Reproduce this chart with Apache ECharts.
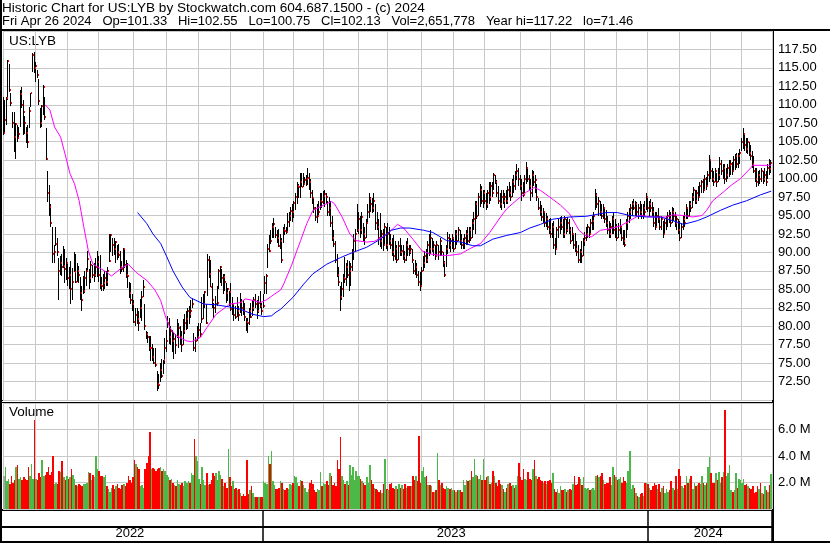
<!DOCTYPE html>
<html><head><meta charset="utf-8">
<script src="https://cdn.jsdelivr.net/npm/echarts/dist/echarts.min.js"></script>
<style>html,body{margin:0;padding:0;background:#fff}#c{width:830px;height:543px}</style>
</head><body><div id="c"></div><script>
// Daily bars [low, high, close], May 2 2022 .. Apr 26 2024 (500 trading days)
const hlc = [
[105.9,111.1,106.2],[106.1,110.6,108.0],[107.2,111.0,110.9],[110.6,116.1,116.0],[111.7,115.5,112.0],
[109.9,111.6,110.3],[106.8,109.0,107.5],[103.6,109.0,105.6],[102.7,107.6,107.4],[105.0,107.2,105.5],
[105.3,107.0,106.0],[107.0,112.0,111.4],[109.5,112.4,110.0],[105.9,110.6,109.0],[106.0,108.5,107.5],
[104.8,107.0,106.2],[104.1,107.2,105.0],[106.8,109.7,109.2],[109.7,111.6,111.6],[114.4,117.0,116.8],
[114.3,117.22,115.0],[113.1,115.8,115.2],[113.6,114.7,114.0],[110.0,113.5,110.5],[106.8,109.5,107.5],
[107.0,110.0,109.8],[108.6,112.7,112.4],[108.0,111.0,108.3],[102.5,106.8,102.6],[96.8,101.0,98.0],
[95.0,99.1,96.1],[93.5,96.5,94.0],[88.6,93.4,89.8],[88.5,91.0,90.0],[90.9,93.4,91.1],
[89.5,92.0,90.0],[83.5,89.2,87.5],[87.0,89.5,88.5],[86.8,89.8,88.0],[87.9,90.9,88.1],
[85.9,90.5,87.8],[86.2,89.2,88.5],[85.5,88.6,86.5],[85.0,88.0,87.0],[83.0,88.9,85.0],
[83.5,87.9,86.0],[87.3,90.0,87.4],[85.9,89.8,86.0],[86.0,88.5,87.5],[85.8,88.2,87.0],
[83.5,86.6,84.5],[82.1,85.5,83.5],[84.3,86.8,84.8],[84.5,87.5,86.5],[85.5,87.9,87.5],
[87.3,90.2,89.1],[85.1,87.8,86.5],[85.8,88.9,88.3],[86.5,88.3,87.0],[86.0,88.5,87.0],
[86.6,89.3,88.0],[86.6,90.2,88.7],[86.0,89.5,87.0],[85.1,89.6,85.6],[84.8,86.6,85.5],
[84.8,87.1,85.8],[85.0,87.5,86.5],[85.5,87.5,86.0],[85.5,88.0,87.5],[88.7,92.5,88.9],
[90.0,92.5,92.3],[89.5,92.0,91.0],[89.6,91.9,90.5],[88.6,91.6,91.4],[89.0,91.0,90.0],
[89.3,91.2,89.7],[87.1,90.2,88.0],[87.3,88.9,87.8],[87.3,90.6,90.5],[87.9,90.6,88.3],
[86.5,89.0,87.0],[85.2,88.5,86.8],[83.8,86.0,84.5],[83.0,85.8,83.5],[82.1,84.4,83.0],
[80.5,83.5,80.6],[80.0,82.5,81.5],[80.3,82.4,81.0],[79.4,82.1,80.5],[81.1,83.7,82.5],
[80.7,84.8,84.0],[83.9,86.2,85.3],[79.5,83.0,80.0],[78.3,79.4,79.0],[77.7,79.2,78.5],
[76.7,78.7,77.0],[75.3,78.7,77.1],[75.3,77.6,75.8],[74.9,77.0,75.0],[74.5,77.0,74.8],
[71.2,73.9,72.2],[71.46,73.5,72.0],[72.5,75.0,74.0],[73.0,75.6,73.2],[73.5,75.4,75.4],
[74.9,78.4,77.0],[76.5,79.5,78.0],[79.8,81.4,80.5],[77.6,81.1,78.5],[77.5,80.0,79.3],
[76.5,79.5,78.0],[75.6,79.1,78.3],[76.3,79.0,77.5],[78.4,81.0,78.7],[77.0,80.5,79.8],
[77.5,80.0,78.5],[76.5,79.4,77.5],[77.4,81.0,79.3],[79.0,81.6,80.4],[79.5,82.0,81.0],
[79.6,82.4,82.0],[80.3,82.8,81.7],[81.1,83.5,82.0],[82.4,83.7,83.0],[76.7,79.1,77.0],
[76.5,78.5,78.0],[78.0,80.0,78.5],[78.3,80.5,79.5],[78.5,80.5,79.0],[80.5,83.9,81.0],
[81.0,84.4,83.0],[82.4,84.8,84.6],[80.3,83.0,80.5],[84.1,89.8,89.0],[86.5,89.5,87.1],
[85.3,89.0,85.3],[82.5,85.9,83.5],[81.1,83.2,82.4],[81.8,84.1,83.0],[82.8,85.5,83.1],
[85.1,87.8,87.5],[85.9,88.2,88.0],[85.5,87.8,86.5],[84.4,87.1,86.7],[84.8,87.1,86.0],
[83.2,85.8,84.5],[83.4,85.2,85.0],[82.8,84.8,84.6],[82.1,85.8,82.3],[81.5,84.0,83.0],
[80.7,83.0,81.5],[81.0,82.8,81.3],[81.3,84.0,82.0],[80.7,82.8,81.5],[81.8,84.5,83.3],
[81.4,83.7,82.5],[81.5,83.5,82.0],[80.7,83.2,81.3],[79.4,81.1,80.6],[79.1,81.1,80.5],
[80.1,82.5,82.0],[81.1,83.2,81.3],[81.4,83.5,82.5],[82.0,84.0,83.5],[82.4,84.4,83.0],
[81.0,83.5,82.0],[81.8,84.1,83.1],[82.5,84.8,82.8],[81.5,83.2,82.0],
// 2023
[82.4,84.4,82.7],[84.4,86.8,85.8],[84.4,87.1,86.8],[87.9,91.2,90.5],[90.0,92.3,90.2],
[91.2,93.0,91.6],[91.9,94.0,93.5],[92.0,94.7,93.8],[91.9,93.4,92.3],[91.3,93.0,92.0],
[90.7,93.2,90.8],[90.5,92.5,91.5],[88.6,92.0,89.0],[91.3,93.4,93.0],[92.3,93.8,92.9],
[92.5,93.5,92.8],[92.7,95.3,94.1],[93.5,95.5,95.0],[94.3,96.1,95.6],[94.1,96.6,95.5],
[94.7,97.0,96.7],[95.7,98.1,97.5],[96.6,99.5,99.0],[97.4,99.3,98.9],[97.4,100.8,99.5],
[98.8,100.7,98.9],[98.8,100.7,99.3],[99.3,100.2,99.8],[99.0,100.5,100.0],[99.1,101.4,100.1],
[98.4,100.7,99.5],[97.4,100.0,98.0],[96.6,98.4,97.4],[95.3,97.4,96.0],[94.3,96.1,94.8],
[94.0,96.6,95.0],[95.0,97.0,95.5],[95.7,98.0,97.0],[96.0,98.0,96.8],[96.5,98.3,97.6],
[96.1,98.4,97.9],[96.6,98.0,97.5],[95.0,97.0,95.5],[95.0,97.5,96.0],[93.4,97.0,94.0],
[91.5,95.0,92.0],[90.7,93.0,91.1],[88.5,91.6,89.0],[86.6,89.8,87.0],[85.5,88.0,86.0],
[82.1,85.5,84.0],[83.5,86.0,85.0],[83.9,87.1,86.5],[85.8,89.4,86.4],[85.5,88.5,88.0],
[86.5,89.0,87.0],[84.8,88.9,87.5],[85.5,88.5,88.0],[87.5,90.5,90.0],[89.0,92.5,91.5],
[90.2,93.2,92.5],[92.8,96.6,93.0],[92.5,95.5,94.5],[92.0,95.0,93.0],[92.5,95.5,94.8],
[91.5,94.0,92.5],[91.0,93.5,92.0],[92.0,94.5,94.0],[94.0,96.5,95.5],[94.7,98.1,97.2],
[95.5,97.5,96.5],[95.3,97.4,96.0],[95.5,98.0,97.0],[93.0,96.6,94.0],[93.0,95.5,93.5],
[91.0,94.5,92.0],[90.7,95.4,91.5],[90.5,93.0,92.5],[90.2,93.2,91.0],[91.0,94.0,93.5],
[90.5,93.5,91.0],[90.2,94.0,92.5],[91.0,93.5,91.5],[90.5,92.5,91.0],[89.5,92.0,90.0],
[88.9,92.3,89.5],[89.0,91.5,90.5],[88.5,91.0,89.0],[89.0,91.5,90.8],[89.5,92.0,90.0],
[89.5,91.0,90.2],[89.0,91.0,89.5],[88.5,90.2,89.0],[88.8,91.5,91.0],[89.5,92.0,90.5],
[89.5,91.0,90.0],[89.8,91.0,90.5],[88.6,90.5,89.0],[87.1,88.6,87.5],[87.0,89.0,88.0],
[86.5,88.5,87.0],[85.5,87.5,86.0],[84.8,87.3,85.5],[85.5,88.0,87.5],[87.5,89.5,88.5],
[87.9,90.2,89.5],[88.5,90.5,89.0],[88.5,91.5,91.0],[89.5,92.5,90.5],[89.8,93.0,92.0],
[90.0,92.0,90.5],[89.5,91.5,91.0],[89.0,91.0,89.5],[89.5,91.5,91.0],[89.0,91.0,90.0],
[89.5,92.0,91.5],[89.5,91.0,90.0],[88.0,90.0,88.5],[86.6,88.9,87.0],[88.0,91.0,90.5],
[89.8,92.7,92.0],[90.5,92.5,91.0],[90.0,92.0,91.5],[90.5,92.5,92.0],[90.0,92.0,90.5],
[90.5,93.0,92.5],[91.0,93.0,91.5],[91.5,93.5,93.0],[91.0,93.0,91.5],[90.5,92.5,91.0],
[90.5,92.0,91.5],[90.5,92.5,92.0],[91.0,93.0,92.5],[91.0,93.5,91.5],[91.3,93.4,93.0],
[91.5,93.5,92.0],[92.0,94.5,94.0],[93.0,95.5,94.5],[92.5,97.0,96.5],[94.5,97.0,95.0],
[95.0,98.0,97.5],[96.1,99.3,98.5],[96.5,99.0,97.0],[96.0,98.5,98.0],[96.5,98.4,97.0],
[95.7,98.0,96.5],[96.0,98.5,98.0],[96.6,99.5,97.5],[97.0,99.5,99.0],[97.5,99.5,98.0],
[98.5,100.8,100.5],[99.3,100.5,99.5],[97.5,99.8,98.0],[96.5,99.0,97.0],[96.0,98.0,96.5],
[95.7,98.4,97.5],[96.5,98.5,97.0],[96.0,98.0,97.5],[96.5,98.5,97.0],[96.5,99.0,98.5],
[97.5,99.5,98.0],[97.0,99.0,97.5],[97.5,100.0,99.5],[98.0,100.5,99.0],[98.5,101.0,100.5],
[99.8,102.0,101.0],[99.0,101.5,100.0],[98.5,100.5,99.0],[97.0,100.0,98.0],[97.5,99.5,97.8],
[98.0,100.5,100.0],[99.3,102.2,101.5],[99.5,101.5,100.0],[98.5,100.5,99.0],[97.0,100.0,98.0],
[97.5,101.1,100.5],[99.0,101.0,99.5],[98.0,100.5,99.8],[97.0,99.3,97.5],[95.7,97.4,96.0],
[95.0,97.0,95.5],[94.3,96.4,94.8],[94.0,96.0,95.5],[93.5,95.5,94.0],[93.4,95.3,94.5],
[93.0,95.0,93.5],[92.5,94.5,93.0],[92.0,94.7,92.5],[92.0,94.0,93.5],[90.5,94.3,91.0],
[89.6,92.0,90.5],[90.5,93.5,93.0],[92.0,94.5,93.5],[92.5,94.8,94.0],[93.0,95.0,93.5],
[92.0,94.5,92.5],[92.0,95.0,94.5],[92.5,94.5,93.0],[92.8,94.8,94.0],[92.5,94.5,93.0],
[91.2,93.4,91.5],[91.5,93.5,92.5],[90.5,92.5,91.0],[90.0,92.6,90.5],[89.5,91.6,90.0],
[88.5,91.0,89.0],[88.6,90.5,90.0],[88.5,91.6,89.5],[89.5,92.0,91.5],[90.8,92.8,92.0],
[91.5,93.5,92.5],[92.0,93.9,93.5],[92.0,93.5,92.5],[92.5,94.5,94.0],[93.0,95.0,94.3],
[93.0,95.5,95.0],[95.7,98.6,97.8],[96.0,98.0,96.5],[95.0,97.5,97.0],[95.0,97.0,95.5],
[94.5,96.5,95.0],[94.5,96.5,96.0],[94.0,96.0,94.5],[93.5,95.7,94.0],[92.5,95.0,93.0],
[92.0,94.3,92.5],[92.0,94.0,93.5],[92.5,95.0,94.5],[92.5,95.5,93.0],[92.0,94.5,93.5],
[91.6,93.9,92.0],[92.0,94.0,93.0],[92.5,94.5,93.5],[91.5,93.5,92.0],[91.0,93.0,91.5],
[90.7,93.0,91.0],[92.0,94.5,94.0],[93.0,95.5,95.0],[94.0,96.0,95.5],[94.5,96.5,96.0],
[95.0,97.0,96.5],[95.7,97.3,96.0],[95.0,97.0,96.5],[95.0,96.8,95.5],[94.5,96.5,96.0],
[95.0,97.0,95.5],[94.5,96.5,95.0],[94.5,96.6,96.0],[95.0,97.0,95.5],[95.7,98.0,97.5],
// 2024
[95.5,97.5,96.0],[95.0,97.0,96.5],[95.5,97.3,96.0],[95.0,96.8,95.5],[93.5,96.1,94.0],
[93.0,95.5,93.5],[93.5,95.5,95.0],[94.0,96.0,94.5],[93.0,95.0,93.5],[93.0,95.0,94.5],
[92.0,94.3,92.5],[92.5,94.5,94.0],[93.0,95.0,94.5],[93.5,95.5,95.0],[94.0,95.7,94.5],
[93.5,95.5,94.0],[94.0,96.1,95.5],[94.3,96.0,95.0],[93.5,95.5,94.0],[93.0,95.0,94.5],
[92.5,94.5,93.0],[91.6,94.3,92.0],[92.0,94.0,93.5],[93.0,95.0,94.5],[93.5,95.5,94.0],
[94.5,96.5,96.0],[94.5,96.0,95.0],[95.0,97.0,96.5],[95.5,96.9,96.0],[96.0,98.0,97.5],
[97.0,98.8,98.5],[96.5,98.5,97.0],[96.5,98.5,98.0],[97.0,99.0,97.5],[97.5,99.5,99.0],
[98.1,99.8,99.5],[98.0,100.0,98.5],[98.5,100.5,100.0],[98.5,100.2,99.0],[99.0,101.0,100.5],
[99.5,103.2,102.5],[100.0,102.5,101.0],[99.5,101.5,100.0],[99.0,101.0,99.5],[99.5,101.5,101.0],
[98.8,100.7,99.5],[99.5,101.5,100.5],[99.8,102.9,102.0],[100.5,102.5,101.0],[100.0,102.0,101.5],
[99.3,102.0,100.0],[99.5,101.5,100.5],[100.0,102.0,101.5],[100.2,102.5,101.8],[100.5,102.5,102.0],
[100.5,102.2,101.0],[101.0,103.0,102.5],[101.1,103.4,103.0],[101.5,103.5,102.0],[101.5,103.5,103.0],
[102.0,104.0,103.5],[103.8,105.5,105.0],[104.0,106.8,106.0],[103.8,106.2,104.5],[103.5,105.5,104.0],
[103.4,105.5,105.0],[103.0,105.0,103.5],[102.5,104.5,103.0],[101.5,103.8,102.0],[100.7,103.0,101.0],
[99.5,101.5,100.0],[98.8,101.5,99.5],[99.0,101.0,100.5],[99.3,101.1,100.0],[99.5,101.5,101.0],
[99.3,101.0,100.0],[99.5,101.5,100.5],[99.0,101.0,99.5],[100.0,102.0,101.5],[100.5,102.7,101.3],
[100.75,102.55,102.13]
];

// Daily volume, millions of shares
const volume = [
2.5,3.2,2.1,2.3,1.9,2.5,2.0,2.2,3.2,3.3, 2.3,2.4,2.2,2.4,2.3,2.2,3.2,2.5,3.4,2.3,
6.7,2.3,2.2,2.7,2.4,3.7,2.5,2.6,2.8,3.2, 2.6,2.8,4.0,1.9,2.0,1.9,2.9,2.8,3.6,2.4,
2.2,2.5,2.3,2.4,3.0,2.6,2.3,1.8,1.7,1.9, 1.8,1.7,1.9,1.9,2.0,2.8,2.7,2.2,2.6,2.4,
4.0,3.0,2.9,2.5,2.5,2.4,2.6,1.7,1.5,1.3, 1.6,1.8,1.5,1.7,1.9,1.6,1.5,1.8,1.9,1.7,
2.0,2.5,2.2,2.0,2.4,3.7,3.4,3.2,3.0,1.7, 1.8,1.6,3.0,3.5,4.0,5.8,3.0,3.1,3.0,2.9,
3.0,3.1,3.2,2.9,3.0,2.9,2.6,2.4,2.2,2.3, 2.0,1.8,1.7,2.2,1.9,1.8,2.0,1.7,2.1,2.0,
2.1,2.0,2.7,2.6,5.3,4.0,3.6,2.3,1.9,3.2, 2.2,1.8,2.7,1.8,1.9,2.2,2.7,2.5,2.7,2.2,
2.9,2.6,2.3,1.7,2.0,1.6,4.5,2.4,1.7,2.1, 1.5,1.6,1.4,1.5,1.2,1.0,1.1,1.0,3.7,1.1,
1.4,1.7,1.2,0.9,0.9,0.9,0.9,0.9,0.9,2.1, 2.0,1.9,4.0,3.4,4.4,2.1,1.8,1.5,1.5,1.6,
2.1,2.0,1.5,1.4,1.6,1.5,1.9,1.8,2.0,2.5, 2.4,2.0,1.7,2.2,2.1,1.8,1.6,1.3,1.5,2.0,
2.2,1.9,1.4,1.3,1.5,1.4,2.8,1.7,2.0,1.9, 2.1,1.8,2.7,2.5,1.8,2.0,1.7,3.7,3.0,5.4,
2.5,2.2,1.9,2.1,1.8,3.3,2.6,3.2,2.2,2.9, 2.5,2.5,2.3,2.1,2.0,1.8,2.4,2.0,3.3,2.2,
1.9,1.6,1.5,1.4,1.3,1.4,1.2,1.9,3.8,1.5, 1.4,1.9,2.0,1.6,1.5,1.7,1.5,1.9,1.6,1.8,
1.5,1.9,1.6,1.7,1.7,1.7,2.5,2.2,2.5,2.1, 5.5,2.0,2.9,3.2,2.4,2.5,1.8,1.8,1.7,1.3,
1.3,1.4,4.2,2.2,1.8,2.0,1.6,1.5,1.7,1.6, 1.5,1.6,1.4,1.4,1.3,1.4,1.4,1.4,1.3,2.2,
1.8,2.2,2.1,2.2,2.9,2.4,3.8,2.6,2.5,2.3, 2.6,2.2,3.8,2.2,2.4,2.5,1.9,2.0,2.9,2.5,
2.0,1.7,2.2,1.9,1.8,1.5,1.3,1.6,1.9,2.0, 1.7,1.8,1.6,1.8,2.5,3.5,2.4,2.2,3.0,2.3,
2.2,2.8,2.3,2.2,3.0,3.7,2.5,2.3,2.4,2.2, 2.1,2.0,2.1,1.9,2.1,2.2,2.0,2.7,1.5,1.3,
1.5,1.2,1.7,1.4,1.4,1.5,1.3,1.4,1.5,1.4, 1.9,2.5,1.8,1.9,2.4,2.3,1.8,2.4,1.6,1.5,
1.6,1.4,1.5,1.6,1.4,2.5,2.6,2.4,2.5,2.7, 2.2,1.9,2.0,2.0,2.4,1.8,3.2,2.6,2.4,2.2,
2.3,2.4,2.0,2.4,2.1,2.0,2.9,4.4,1.5,1.8, 1.6,1.2,1.0,0.9,1.1,1.2,1.0,2.0,2.0,1.9,
1.6,1.4,1.7,2.0,1.8,1.5,1.9,1.3,1.6,1.7, 1.2,1.5,1.3,1.4,2.1,1.6,1.4,2.5,1.5,3.0,
2.5,1.7,1.6,1.8,2.5,2.0,2.3,2.5,1.5,2.0, 1.7,1.8,2.0,1.9,2.5,2.0,1.8,2.0,3.2,3.9,
2.7,2.0,2.0,2.7,2.2,2.8,2.0,2.4,2.8,7.45, 2.5,2.7,3.3,1.4,1.3,1.4,2.7,1.6,2.3,2.2,
2.0,2.3,1.8,1.9,1.7,1.6,1.5,1.7,1.2,1.3, 1.7,1.5,2.0,1.2,1.1,1.7,1.4,1.3,1.8,2.65
];

// Moving averages: [bar index, value]
const maShort = [[27,110.0],[30,109.3],[33,107.0],[37,105.6],[40,103.2],[43,100.7],[46,99.3],[49,97.0],[52,93.5],[55,90.2],[58,88.4],[63,87.8],[67,87.3],[70,86.8],[76,87.8],[81,88.4],[86,87.3],[93,86.2],[98,85.0],[102,83.5],[105,81.4],[108,79.8],[112,78.7],[119,78.0],[122,77.9],[128,78.5],[132,79.8],[138,81.6],[147,83.0],[154,83.2],[157,83.7],[162,83.5],[167,83.2],[171,83.6],[175,84.2],[180,84.9],[182,85.7],[187,88.2],[193,91.6],[197,93.9],[201,95.7],[205,96.1],[208,96.4],[213,96.9],[215,96.6],[220,94.8],[225,92.5],[229,91.6],[236,91.4],[241,91.5],[248,92.3],[253,93.2],[256,93.8],[260,93.3],[266,91.8],[272,90.2],[277,89.8],[284,89.6],[290,89.6],[297,89.8],[303,90.5],[310,91.2],[316,92.7],[323,94.8],[327,95.9],[333,97.0],[340,98.2],[345,98.8],[349,98.4],[355,97.5],[362,96.4],[368,95.2],[374,93.0],[378,92.3],[382,92.1],[388,93.0],[394,93.2],[401,93.6],[407,94.3],[413,95.0],[418,94.9],[424,94.8],[431,94.8],[435,95.1],[442,95.0],[448,94.8],[454,95.0],[457,95.7],[461,97.0],[468,98.2],[473,99.1],[479,100.0],[485,101.3],[487,101.8],[499,101.8]];
const maLong = [[87,95.4],[93,93.9],[97,92.5],[102,91.2],[106,89.4],[110,87.5],[116,85.3],[121,83.9],[125,83.5],[130,83.0],[138,82.9],[147,82.6],[154,82.3],[162,81.6],[169,81.3],[174,81.4],[177,81.9],[180,82.3],[188,83.9],[195,85.7],[201,87.1],[210,88.4],[219,89.3],[227,90.0],[236,90.7],[245,91.8],[252,93.0],[258,93.3],[264,93.3],[273,93.0],[279,92.7],[288,91.6],[297,91.4],[305,90.9],[310,90.9],[318,91.8],[327,92.3],[336,92.7],[342,93.3],[349,93.8],[357,94.5],[368,94.8],[379,94.9],[392,95.4],[399,95.4],[407,95.0],[418,94.8],[427,94.8],[435,94.3],[442,93.8],[451,94.3],[457,94.8],[466,95.7],[474,96.4],[483,97.0],[492,97.8],[499,98.3]];

// Calendar structure (bar indices)
const monthStarts = [0,21,42,62,85,106,127,148,169,189,208,231,250,272,293,313,336,356,378,399,419,440,460,480];
const yearStarts = [0,169,419];
const yearMids = [82,291,458];
const yearLabels = ['2022','2023','2024'];

const headerLine1 = 'Historic Chart for US:LYB by Stockwatch.com 604.687.1500 - (c) 2024';
const headerLine2 = 'Fri Apr 26 2024   Op=101.33   Hi=102.55   Lo=100.75   Cl=102.13   Vol=2,651,778   Year hi=117.22   lo=71.46';

const FONT = "'Liberation Sans', Arial, sans-serif";
const cats = hlc.map((_, i) => String(i));
const monthSet = new Set(monthStarts);
const yearStartSet = new Set(yearStarts.slice(1));
const yearMidMap = {}; yearMids.forEach((m, k) => yearMidMap[m] = yearLabels[k]);
const GRID = '#c8c8c8', GREEN = '#4cb848', RED = '#ff0000', GRAY = '#a8a8a8';

const barData = hlc.map((d, i) => [i, d[0], d[1], d[2]]);
const volColors = volume.map((v, i) => {
  if (i === 0) return GRAY;
  const a = hlc[i][2], b = hlc[i - 1][2];
  return a > b ? GREEN : (a < b ? RED : GRAY);
});
const volData = volume.map((v, i) => [i, v]);

function renderBar(params, api) {
  const top = api.coord([api.value(0), api.value(2)]);
  const bot = api.coord([api.value(0), api.value(1)]);
  const x = Math.round(top[0]);
  const y0 = Math.round(top[1]);
  return { type: 'rect', shape: { x: x - 1, y: y0, width: 1, height: Math.max(1, Math.round(bot[1]) - y0) }, style: { fill: '#000' } };
}
function renderClose(params, api) {
  const p = api.coord([api.value(0), api.value(3)]);
  return { type: 'rect', shape: { x: Math.round(p[0]), y: Math.round(p[1]) - 1, width: 1, height: 2 }, style: { fill: RED } };
}
function renderVol(params, api) {
  const i = api.value(0);
  const p = api.coord([i, api.value(1)]);
  const base = api.coord([i, 0]);
  const bw = api.size([1, 0])[0];
  const x0 = Math.round(p[0] - bw / 2), x1 = Math.round(p[0] + bw / 2);
  const y0 = Math.round(p[1]);
  return { type: 'rect', shape: { x: x0, y: y0, width: Math.max(1, x1 - x0), height: Math.round(base[1]) - y0 }, style: { fill: volColors[i] } };
}

const chart = echarts.init(document.getElementById('c'), null, { renderer: 'canvas' });
const hidden = { axisLine: { show: false }, axisTick: { show: false } };
chart.setOption({
  animation: false,
  backgroundColor: '#fff',
  grid: [
    { left: 3, width: 769, top: 31, height: 369 },
    { left: 3, width: 769, top: 403, height: 106 },
    { left: 3, width: 769, top: 510, height: 31 }
  ],
  xAxis: [
    Object.assign({ type: 'category', gridIndex: 0, data: cats, boundaryGap: true,
      axisLabel: { show: false },
      splitLine: { show: true, interval: (i) => monthSet.has(i), lineStyle: { color: GRID, width: 1 } } }, hidden),
    Object.assign({ type: 'category', gridIndex: 1, data: cats, boundaryGap: true,
      axisLabel: { show: true, interval: (i) => yearMidMap[i] !== undefined, formatter: (v, i) => yearMidMap[i] || '',
        margin: 18, color: '#000', fontSize: 13, fontFamily: FONT },
      splitLine: { show: true, interval: (i) => monthSet.has(i), lineStyle: { color: GRID, width: 1 } } }, hidden),
    Object.assign({ type: 'category', gridIndex: 2, data: cats, boundaryGap: true,
      axisLabel: { show: false },
      splitLine: { show: true, interval: (i) => yearStartSet.has(i), lineStyle: { color: '#000', width: 1.5 } } }, hidden)
  ],
  yAxis: [
    Object.assign({ type: 'value', gridIndex: 0, position: 'right', min: 70, max: 120, interval: 2.5,
      axisLabel: { showMinLabel: false, showMaxLabel: false, formatter: (v) => v.toFixed(2), color: '#000', fontSize: 13, fontFamily: FONT, margin: 6 },
      splitLine: { show: true, lineStyle: { color: GRID, width: 1 } } }, hidden),
    Object.assign({ type: 'value', gridIndex: 1, position: 'right', min: 0, max: 8, interval: 2,
      axisLabel: { showMinLabel: false, showMaxLabel: false, formatter: (v) => v.toFixed(1) + ' M', color: '#000', fontSize: 13, fontFamily: FONT, margin: 6 },
      splitLine: { show: true, lineStyle: { color: GRID, width: 1 } } }, hidden),
    Object.assign({ type: 'value', gridIndex: 2, min: 0, max: 1, axisLabel: { show: false }, splitLine: { show: false } }, hidden)
  ],
  series: [
    { type: 'custom', xAxisIndex: 1, yAxisIndex: 1, data: volData, renderItem: renderVol, encode: { x: 0, y: 1 }, silent: true },
    { type: 'custom', xAxisIndex: 0, yAxisIndex: 0, data: barData, renderItem: renderBar, encode: { x: 0, y: [1, 2] }, silent: true, z: 3 },
    { type: 'custom', xAxisIndex: 0, yAxisIndex: 0, data: barData, renderItem: renderClose, encode: { x: 0, y: 3 }, silent: true, z: 4 },
    { type: 'line', xAxisIndex: 0, yAxisIndex: 0, data: maShort, showSymbol: false, symbol: 'none', lineStyle: { color: '#ff00ff', width: 1 }, z: 5, silent: true },
    { type: 'line', xAxisIndex: 0, yAxisIndex: 0, data: maLong, showSymbol: false, symbol: 'none', lineStyle: { color: '#0000ff', width: 1 }, z: 5, silent: true }
  ],
  graphic: [
    { type: 'text', left: 2, top: 1, style: { text: headerLine1, font: '13.6px ' + FONT, fill: '#000' } },
    { type: 'text', left: 2, top: 15, style: { text: headerLine2, font: '13px ' + FONT, fill: '#000' } },
    { type: 'text', left: 9, top: 34, style: { text: 'US:LYB', font: '13.5px ' + FONT, fill: '#000' } },
    { type: 'text', left: 9, top: 405, style: { text: 'Volume', font: '13.5px ' + FONT, fill: '#000' } },
    { type: 'line', shape: { x1: 0, y1: 30, x2: 830, y2: 30 }, style: { stroke: '#000', lineWidth: 2 } },
    { type: 'line', shape: { x1: 0, y1: 400.5, x2: 773, y2: 400.5 }, style: { stroke: '#000', lineWidth: 1 } },
    { type: 'line', shape: { x1: 0, y1: 402.5, x2: 773, y2: 402.5 }, style: { stroke: '#000', lineWidth: 1 } },
    { type: 'line', shape: { x1: 0, y1: 510, x2: 773, y2: 510 }, style: { stroke: '#000', lineWidth: 2 } },
    { type: 'line', shape: { x1: 0, y1: 527, x2: 773, y2: 527 }, style: { stroke: '#000', lineWidth: 2 } },
    { type: 'line', shape: { x1: 0, y1: 542, x2: 830, y2: 542 }, style: { stroke: '#000', lineWidth: 2 } },
    { type: 'line', shape: { x1: 1, y1: 0, x2: 1, y2: 543 }, style: { stroke: '#000', lineWidth: 2 } },
    { type: 'line', shape: { x1: 773, y1: 30, x2: 773, y2: 543 }, style: { stroke: '#000', lineWidth: 2 } }
  ]
});
</script></body></html>
